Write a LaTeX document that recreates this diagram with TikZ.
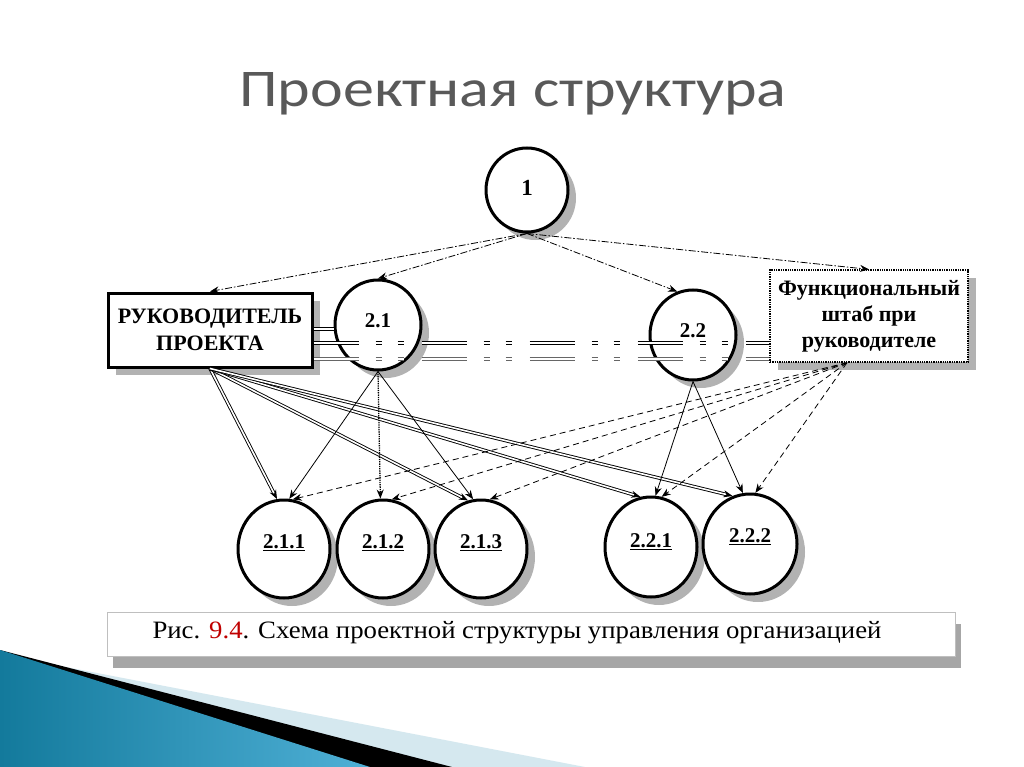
\documentclass[tikz,border=0pt]{standalone}
\usepackage{graphicx}
\usepackage{fontspec}
\setmainfont{Liberation Serif}
\newfontfamily\titlefont{Carlito}
\usetikzlibrary{shapes.geometric,arrows.meta,shadows,calc}
\definecolor{titlegray}{HTML}{595959}
\definecolor{deepblue}{HTML}{137A9C}
\definecolor{midblue}{HTML}{4FB0D6}
\definecolor{paleblue}{HTML}{D5E8EF}
\definecolor{capred}{HTML}{C00000}
\tikzset{
  shd/.style={drop shadow={opacity=0.3,shadow xshift=8pt,shadow yshift=-8pt,fill=black}},
  circ/.style={ellipse,draw=black,line width=3pt,fill=white,inner sep=0pt,shd},
  lbl/.style={font=\bfseries\fontsize{21}{23}\selectfont,inner sep=0pt},
  boxA/.style={rectangle,draw=black,line width=3pt,fill=white,inner sep=0pt,shd,
    font=\bfseries\fontsize{22}{27}\selectfont,align=center},
  boxB/.style={rectangle,draw=black,line width=1.3pt,densely dotted,fill=white,inner sep=0pt,shd,
    font=\bfseries\fontsize{22}{26}\selectfont,align=center},
  tip/.style={-{Stealth[length=9pt,width=7pt]}},
  topln/.style={tip,line width=0.8pt,dash pattern=on 7pt off 2pt on 1.5pt off 2pt},
  dblln/.style={tip,double,double distance=1.6pt,line width=0.9pt},
  thinln/.style={tip,line width=0.8pt},
  dotln/.style={tip,line width=1.3pt,densely dotted},
  fsln/.style={tip,line width=0.8pt,dash pattern=on 6pt off 4pt},
  hline/.style={line width=1.1pt,double,double distance=2pt,
    dash pattern=on 45pt off 17pt on 6pt off 16pt on 6pt off 18pt}
}
\begin{document}
\begin{tikzpicture}[x=1pt,y=-1pt]
\useasboundingbox (0,0) rectangle (1024,767);
\fill[white] (0,0) rectangle (1024,767);

% bottom-left decoration
\fill[paleblue] (40,662) -- (585,767) -- (0,767) -- cycle;
\fill[black] (0,650) -- (452,767) -- (0,767) -- cycle;
\shade[left color=deepblue,right color=midblue] (0,650) -- (370,767) -- (0,767) -- cycle;

% title
\node[font=\titlefont\fontsize{53}{56}\selectfont,text=titlegray] (title) at (513,94)
  {\scalebox{1.17}[1]{Проектная структура}};

% nodes
\node[circ,minimum width=82,minimum height=84] (c1) at (527,190) {};
\node[lbl,font=\bfseries\fontsize{23}{25}\selectfont] (t1) at (527,188) {1};

\node[boxA,minimum width=204,minimum height=74] (ruk) at (210,330) {РУКОВОДИТЕЛЬ\\ПРОЕКТА};
\node[boxB,minimum width=198,minimum height=92] (fs) at (869,316) {Функциональный\\штаб при\\руководителе};

\node[circ,minimum width=86,minimum height=90] (c21) at (378,325) {};
\node[lbl] (t21) at (378,321) {2.1};
\node[circ,minimum width=86,minimum height=90] (c22) at (693,335) {};
\node[lbl] (t22) at (693,331) {2.2};

\node[circ,minimum width=92,minimum height=98] (c211) at (284,549) {};
\node[circ,minimum width=92,minimum height=98] (c212) at (383,549) {};
\node[circ,minimum width=92,minimum height=98] (c213) at (481,549) {};
\node[circ,minimum width=92,minimum height=100] (c221) at (651,547) {};
\node[circ,minimum width=94,minimum height=100] (c222) at (750,544) {};
\node[lbl] (t211) at (284,543) {\underline{2.1.1}};
\node[lbl] (t212) at (383,543) {\underline{2.1.2}};
\node[lbl] (t213) at (481,543) {\underline{2.1.3}};
\node[lbl] (t221) at (651,542) {\underline{2.2.1}};
\node[lbl] (t222) at (750,537) {\underline{2.2.2}};

% caption
\node[rectangle,draw=gray!50,line width=0.6pt,fill=white,minimum width=848,minimum height=44,
  drop shadow={opacity=0.35,shadow xshift=6pt,shadow yshift=-12pt,fill=black}] (capbox) at (531,634) {};
\node[font=\fontsize{25}{27}\selectfont] (cap) at (517,633)
  {\scalebox{1.07}[1]{Рис. \textcolor{capred}{9.4}. Схема проектной структуры управления организацией}};

% horizontal links
\coordinate (hL1) at ($(ruk.east)+(0,-1)$);
\draw[line width=1.1pt,double,double distance=2pt] (hL1) -- (c21.west |- hL1);
\coordinate (hA) at ($(ruk.east)+(0,13)$);
\coordinate (hB) at ($(fs.west |- hA)$);
\draw[hline] (hA) -- (hB);
\coordinate (hC) at ($(ruk.east)+(0,29)$);
\coordinate (hD) at ($(fs.west |- hC)$);
\draw[hline,draw=black!60,line width=1.2pt,double distance=1.2pt] (hC) -- (hD);

% top links
\draw[topln] (c1.south) -- (ruk.north);
\draw[topln] (c1.south) -- (c21.north);
\draw[topln] (c1.south) -- (c22.110);
\draw[topln] (c1.south) -- (fs.north);

% from RUK
\draw[dblln] (ruk.south) -- (c211.98);
\draw[dblln] (ruk.south) -- (c213.105);
\draw[dblln] (ruk.south) -- (c221.102);
\draw[dblln] (ruk.south) -- (c222.110);

% from 2.1
\draw[thinln] (c21.south) -- (c211.84);
\draw[dotln] (c21.south) -- (c212.93);
\draw[thinln] (c21.south) -- (c213.99);

% from 2.2
\draw[thinln] (c22.south) -- (c221.85);
\draw[thinln] (c22.south) -- (c222.98);

% from functional staff
\coordinate (fsO) at ($(fs.south)+(-22,0)$);
\draw[fsln] (fsO) -- (c211.80);
\draw[fsln] (fsO) -- (c212.80);
\draw[fsln] (fsO) -- (c213.80);
\draw[fsln] (fsO) -- (c221.78);
\draw[fsln] (fsO) -- (c222.84);
\end{tikzpicture}
\end{document}
